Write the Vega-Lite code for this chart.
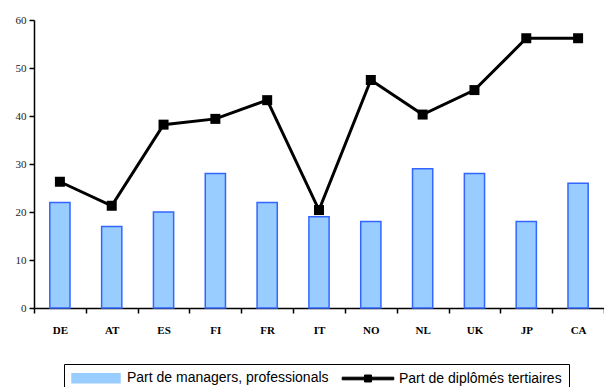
{
  "$schema": "https://vega.github.io/schema/vega-lite/v6.json",
  "width": 570,
  "height": 288,
  "autosize": {"type": "none"},
  "padding": {"left": 34, "top": 20, "right": 0, "bottom": 79},
  "background": "white",
  "data": {
    "values": [
      {"pays": "DE", "serie": "Part de managers, professionals", "valeur": 22},
      {"pays": "AT", "serie": "Part de managers, professionals", "valeur": 17},
      {"pays": "ES", "serie": "Part de managers, professionals", "valeur": 20},
      {"pays": "FI", "serie": "Part de managers, professionals", "valeur": 28},
      {"pays": "FR", "serie": "Part de managers, professionals", "valeur": 22},
      {"pays": "IT", "serie": "Part de managers, professionals", "valeur": 19},
      {"pays": "NO", "serie": "Part de managers, professionals", "valeur": 18},
      {"pays": "NL", "serie": "Part de managers, professionals", "valeur": 29},
      {"pays": "UK", "serie": "Part de managers, professionals", "valeur": 28},
      {"pays": "JP", "serie": "Part de managers, professionals", "valeur": 18},
      {"pays": "CA", "serie": "Part de managers, professionals", "valeur": 26},
      {"pays": "DE", "serie": "Part de diplômés tertiaires", "valeur": 26.3},
      {"pays": "AT", "serie": "Part de diplômés tertiaires", "valeur": 21.3},
      {"pays": "ES", "serie": "Part de diplômés tertiaires", "valeur": 38.2},
      {"pays": "FI", "serie": "Part de diplômés tertiaires", "valeur": 39.4},
      {"pays": "FR", "serie": "Part de diplômés tertiaires", "valeur": 43.3},
      {"pays": "IT", "serie": "Part de diplômés tertiaires", "valeur": 20.4},
      {"pays": "NO", "serie": "Part de diplômés tertiaires", "valeur": 47.5},
      {"pays": "NL", "serie": "Part de diplômés tertiaires", "valeur": 40.3},
      {"pays": "UK", "serie": "Part de diplômés tertiaires", "valeur": 45.4},
      {"pays": "JP", "serie": "Part de diplômés tertiaires", "valeur": 56.2},
      {"pays": "CA", "serie": "Part de diplômés tertiaires", "valeur": 56.2}
    ]
  },
  "encoding": {
    "x": {
      "field": "pays",
      "type": "nominal",
      "sort": null,
      "scale": {"paddingInner": 0, "paddingOuter": 0},
      "axis": {
        "title": null,
        "labelAngle": 0,
        "labelFont": "Liberation Serif",
        "labelFontSize": 11,
        "labelFontWeight": "bold",
        "labelColor": "#000000",
        "labelPadding": 11,
        "tickBand": "extent",
        "tickSize": 5,
        "tickColor": "#000000",
        "tickWidth": 1.5,
        "domainColor": "#000000",
        "domainWidth": 1.5,
        "grid": false
      }
    },
    "y": {
      "field": "valeur",
      "type": "quantitative",
      "scale": {"domain": [0, 60], "nice": false},
      "axis": {
        "title": null,
        "values": [0, 10, 20, 30, 40, 50, 60],
        "labelFont": "Liberation Serif",
        "labelFontSize": 11,
        "labelColor": "#222222",
        "labelPadding": 3,
        "tickSize": 5,
        "tickColor": "#000000",
        "tickWidth": 1.5,
        "domainColor": "#000000",
        "domainWidth": 1.5,
        "grid": false
      }
    },
    "color": {
      "field": "serie",
      "type": "nominal",
      "scale": {
        "domain": ["Part de managers, professionals", "Part de diplômés tertiaires"],
        "range": ["#99ccff", "#000000"]
      },
      "legend": {
        "title": null,
        "orient": "none",
        "legendX": 30,
        "legendY": 344,
        "direction": "horizontal",
        "columns": 2,
        "strokeColor": "#000000",
        "padding": 7,
        "labelFont": "Liberation Sans",
        "labelFontSize": 14,
        "labelColor": "#000000",
        "labelLimit": 400,
        "labelOffset": 24,
        "columnPadding": 11,
        "symbolSize": 144,
        "symbolOffset": 18,
        "symbolStrokeWidth": 1.5,
        "symbolOpacity": 1,
        "encode": {
          "symbols": {
            "update": {
              "shape": {"signal": "datum.value === 'Part de managers, professionals' ? 'M-4,-0.75H4V0.75H-4Z' : 'M-4.3,-0.22H4.3V0.22H-4.3Z M-0.58,-0.58H0.58V0.58H-0.58Z'"},
              "fill": {"signal": "datum.value === 'Part de managers, professionals' ? '#99ccff' : '#000000'"},
              "stroke": {"signal": "datum.value === 'Part de managers, professionals' ? '#3366ff' : '#000000'"},
              "strokeWidth": {"signal": "datum.value === 'Part de managers, professionals' ? 1.5 : 1"}
            }
          }
        }
      }
    }
  },
  "layer": [
    {
      "transform": [{"filter": "datum.serie === 'Part de managers, professionals'"}],
      "mark": {"type": "bar", "width": {"band": 0.39}, "stroke": "#3366ff", "strokeWidth": 1.5, "opacity": 1}
    },
    {
      "transform": [{"filter": "datum.serie === 'Part de diplômés tertiaires'"}],
      "mark": {
        "type": "line",
        "strokeWidth": 3,
        "point": {"shape": "square", "size": 100, "filled": true, "color": "#000000", "opacity": 1}
      }
    }
  ],
  "config": {
    "view": {"stroke": null}
  }
}
